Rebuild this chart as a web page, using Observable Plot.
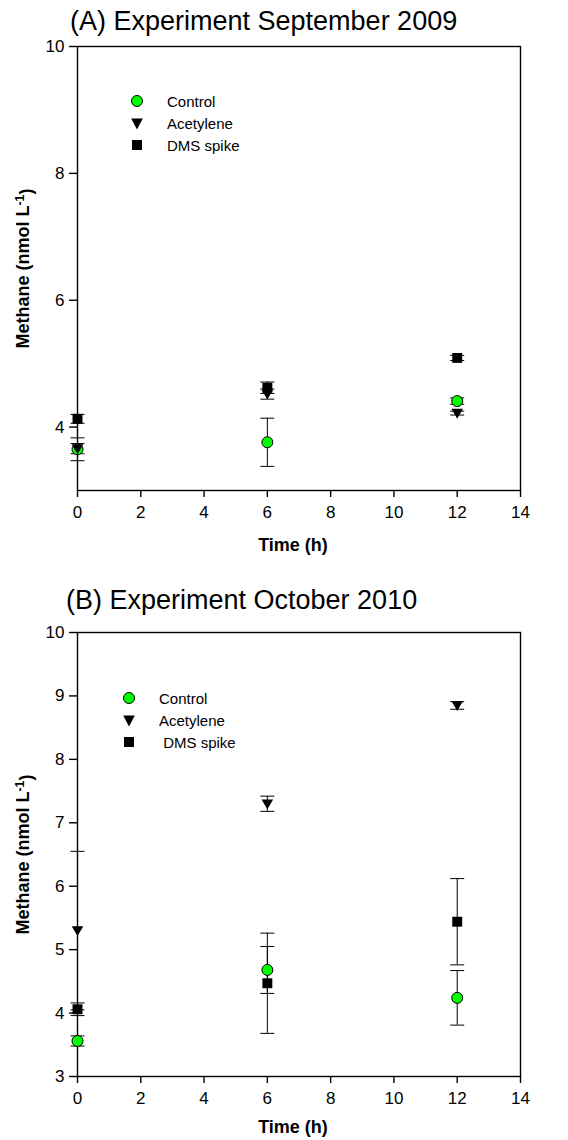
<!DOCTYPE html>
<html><head><meta charset="utf-8">
<script src="https://cdn.jsdelivr.net/npm/d3@7"></script>
<script src="https://cdn.jsdelivr.net/npm/@observablehq/plot@0.6"></script>
<style>
body{margin:0;background:#fff;font-family:"Liberation Sans",Arial,sans-serif;}
#root{position:relative;width:568px;height:1140px;overflow:hidden;background:#fff;}
.title{position:absolute;font-size:27px;line-height:27px;color:#000;white-space:nowrap;}
.legend{position:absolute;font-size:15px;color:#000;}
.legend .row{position:absolute;left:0;display:flex;align-items:center;height:20px;white-space:pre;}
.legend svg{width:16px;height:16px;margin-right:22px;overflow:visible;}
.panel{position:absolute;left:0;}
</style></head><body><div id="root"></div>
<script>
// ---- data ----
const times = [0, 6, 12];
const seriesNames = ["Control", "Acetylene", "DMS spike"];
const xTicks = [0, 2, 4, 6, 8, 10, 12, 14];

// Panel A: Experiment September 2009
const aControl = [3.65, 3.76, 4.41];
const aControlErr = [0.18, 0.38, 0.05];
const aAcetylene = [3.66, 4.52, 4.22];
const aAcetyleneErr = [0.08, 0.08, 0.03];
const aDms = [4.13, 4.62, 5.09];
const aDmsErr = [0.07, 0.09, 0.04];
const aYTicks = [4, 6, 8, 10];

// Panel B: Experiment October 2010
const bControl = [3.56, 4.68, 4.24];
const bControlErr = [0.08, 0.37, 0.43];
const bAcetylene = [5.30, 7.30, 8.85];
const bAcetyleneErr = [1.25, 0.12, 0.06];
const bDms = [4.06, 4.47, 5.44];
const bDmsErr = [0.10, 0.79, 0.68];
const bYTicks = [3, 4, 5, 6, 7, 8, 9, 10];

// ---- helpers ----
function rowsFor(series) {
  const out = [];
  series.forEach(([name, means, errs]) => {
    times.forEach((t, i) => out.push({t, series: name, mean: means[i], lo: means[i] - errs[i], hi: means[i] + errs[i]}));
  });
  return out;
}
const capSymbol = {draw(ctx, size) { const r = Math.sqrt(size / Math.PI); ctx.moveTo(-r, 0); ctx.lineTo(r, 0); }};
const triDown = {draw(ctx, size) { const r = Math.sqrt(size / Math.PI); ctx.moveTo(-r, -r * 0.75); ctx.lineTo(r, -r * 0.75); ctx.lineTo(0, r * 0.95); ctx.closePath(); }};

function panel(rows, yTicks, height, marginBottom, labelDy) {
  const by = n => rows.filter(d => d.series === n);
  const svg = Plot.plot({
    width: 568, height,
    marginLeft: 77, marginRight: 48, marginTop: 46, marginBottom,
    style: {fontFamily: "'Liberation Sans', Arial, sans-serif", fontSize: "17px", background: "transparent", color: "black", overflow: "visible"},
    x: {domain: [0, 14]},
    y: {domain: [3, 10]},
    marks: [
      Plot.frame({stroke: "black", strokeWidth: 1.4}),
      Plot.axisX({ticks: xTicks, tickFormat: d3.format("d"), tickSize: 7, tickPadding: 8, label: null, strokeWidth: 1.4}),
      Plot.axisY({ticks: yTicks, tickFormat: d3.format("d"), tickSize: 8, tickPadding: 5, label: null, strokeWidth: 1.4}),
      Plot.ruleX(rows, {x: "t", y1: "lo", y2: "hi", stroke: "black", strokeWidth: 1}),
      Plot.dot(rows, {x: "t", y: "hi", symbol: capSymbol, r: 7, stroke: "black", strokeWidth: 1, fill: "none"}),
      Plot.dot(rows, {x: "t", y: "lo", symbol: capSymbol, r: 7, stroke: "black", strokeWidth: 1, fill: "none"}),
      Plot.dot(by(seriesNames[0]), {x: "t", y: "mean", r: 5.5, fill: "#00ff00", stroke: "black", strokeWidth: 1}),
      Plot.dot(by(seriesNames[1]), {x: "t", y: "mean", symbol: triDown, r: 5.8, fill: "black", stroke: "none"}),
      Plot.dot(by(seriesNames[2]), {x: "t", y: "mean", symbol: "square", r: 5.6, fill: "black", stroke: "none"}),
      Plot.text(["Time (h)"], {frameAnchor: "bottom", lineAnchor: "middle", textAnchor: "middle", dx: -6, dy: labelDy, fontWeight: "bold", fontSize: 18}),
      Plot.text(["Methane (nmol L-1)"], {frameAnchor: "left", lineAnchor: "middle", textAnchor: "middle", rotate: -90, dx: -54, fontWeight: "bold", fontSize: 18})
    ]
  });
  // superscript for the unit
  d3.select(svg).selectAll("text").filter(function() { return this.textContent === "Methane (nmol L-1)"; })
    .each(function() {
      const t = d3.select(this);
      t.text("Methane (nmol L");
      t.append("tspan").attr("dy", "-0.45em").attr("font-size", "0.68em").text("-1");
      t.append("tspan").attr("dy", "0.45em").text(")");
    });
  return svg;
}

function legend(root, left, top, labels) {
  const lg = document.createElement("div");
  lg.className = "legend";
  lg.style.left = left + "px"; lg.style.top = top + "px";
  const shapes = [
    '<circle cx="8" cy="8" r="5.5" fill="#00ff00" stroke="black" stroke-width="1"/>',
    '<path d="M2.2,3.6L13.8,3.6L8,14.4Z" fill="black"/>',
    '<rect x="3" y="3" width="10" height="10" fill="black"/>'
  ];
  labels.forEach((lab, i) => {
    const row = document.createElement("div");
    row.className = "row";
    row.style.top = (i * 22) + "px";
    row.innerHTML = '<svg viewBox="0 0 16 16">' + shapes[i] + '</svg><span>' + lab + '</span>';
    lg.appendChild(row);
  });
  root.appendChild(lg);
}

const root = document.getElementById("root");

const rowsA = rowsFor([[seriesNames[0], aControl, aControlErr], [seriesNames[1], aAcetylene, aAcetyleneErr], [seriesNames[2], aDms, aDmsErr]]);
const rowsB = rowsFor([[seriesNames[0], bControl, bControlErr], [seriesNames[1], bAcetylene, bAcetyleneErr], [seriesNames[2], bDms, bDmsErr]]);

const svgA = panel(rowsA, aYTicks, 580, 90, 55);
svgA.classList.add("panel"); svgA.style.top = "0px";
root.appendChild(svgA);

const svgB = panel(rowsB, bYTicks, 554, 64, 51);
svgB.classList.add("panel"); svgB.style.top = "586px";
root.appendChild(svgB);

const tA = document.createElement("div");
tA.className = "title"; tA.style.left = "70px"; tA.style.top = "8px";
tA.textContent = "(A) Experiment September 2009";
root.appendChild(tA);

const tB = document.createElement("div");
tB.className = "title"; tB.style.left = "66px"; tB.style.top = "587px";
tB.textContent = "(B) Experiment October 2010";
root.appendChild(tB);

legend(root, 129, 91, [seriesNames[0], seriesNames[1], seriesNames[2]]);
legend(root, 121, 688, [seriesNames[0], seriesNames[1], " " + seriesNames[2]]);
</script></body></html>
